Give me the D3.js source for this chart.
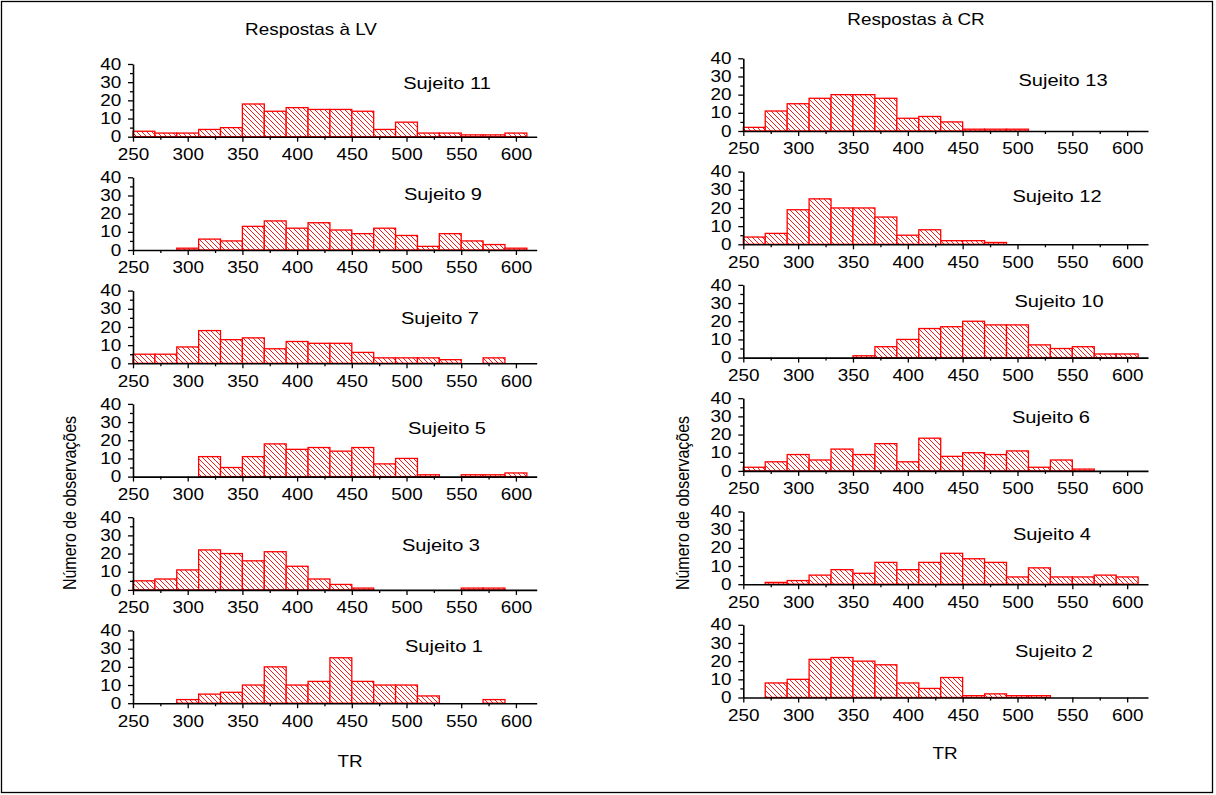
<!DOCTYPE html>
<html>
<head>
<meta charset="utf-8">
<script src="https://cdn.jsdelivr.net/npm/d3@7/dist/d3.min.js"></script>
<style>
  html, body { margin: 0; padding: 0; background: #fff; }
  svg { display: block; }
  text { font-family: "Liberation Sans", Arial, sans-serif; fill: #000; }
</style>
</head>
<body>
<svg id="chart" width="1216" height="795"></svg>
<script>
// ---------------- DATA ----------------
// bin lower edges (width 20 ms)
const binStarts = [250, 270, 290, 310, 330, 350, 370, 390, 410, 430, 450, 470, 490, 510, 530, 550, 570, 590];
const binWidth = 20;
const xTicks = [250, 300, 350, 400, 450, 500, 550, 600];
const yTicks = [0, 10, 20, 30, 40];

const leftTitle = "Respostas à LV";
const rightTitle = "Respostas à CR";
const xTitle = "TR";
const yTitle = "Número de observações";

const leftSubjects = ["Sujeito 11", "Sujeito 9", "Sujeito 7", "Sujeito 5", "Sujeito 3", "Sujeito 1"];
const rightSubjects = ["Sujeito 13", "Sujeito 12", "Sujeito 10", "Sujeito 6", "Sujeito 4", "Sujeito 2"];

const s11 = [3, 2, 2, 4, 5, 18, 14, 16, 15, 15, 14, 4, 8, 2, 2, 1, 1, 2];
const s9  = [0, 0, 1, 6, 5, 13, 16, 12, 15, 11, 9, 12, 8, 2, 9, 5, 3, 1];
const s7  = [5, 5, 9, 18, 13, 14, 8, 12, 11, 11, 6, 3, 3, 3, 2, 0, 3, 0];
const s5  = [0, 0, 0, 11, 5, 11, 18, 15, 16, 14, 16, 7, 10, 1, 0, 1, 1, 2];
const s3  = [5, 6, 11, 22, 20, 16, 21, 13, 6, 3, 1, 0, 0, 0, 0, 1, 1, 0];
const s1  = [0, 0, 2, 5, 6, 10, 20, 10, 12, 25, 12, 10, 10, 4, 0, 0, 2, 0];

const s13 = [2, 11, 15, 18, 20, 20, 18, 7, 8, 5, 1, 1, 1, 0, 0, 0, 0, 0];
const s12 = [4, 6, 19, 25, 20, 20, 15, 5, 8, 2, 2, 1, 0, 0, 0, 0, 0, 0];
const s10 = [0, 0, 0, 0, 0, 1, 6, 10, 16, 17, 20, 18, 18, 7, 5, 6, 2, 2];
const s6  = [2, 5, 9, 6, 12, 9, 15, 5, 18, 8, 10, 9, 11, 2, 6, 1, 0, 0];
const s4  = [0, 1, 2, 5, 8, 6, 12, 8, 12, 17, 14, 12, 4, 9, 4, 4, 5, 4];
const s2  = [0, 8, 10, 21, 22, 20, 18, 8, 5, 11, 1, 2, 1, 1, 0, 0, 0, 0];

const leftSeries = [s11, s9, s7, s5, s3, s1];
const rightSeries = [s13, s12, s10, s6, s4, s2];

// ---------------- LAYOUT ----------------
const xDomain = [250, 619];
const yDomain = [0, 40];
const panelH = 72.7;
const panelStep = 113.3;
const columns = [
  { x0: 133, x1: 536.7, base0: 136.7, names: leftSubjects, series: leftSeries,
    labelX: [447, 443, 440, 447, 441, 444], labelDy: [48, 50.5, 39.5, 43, 38.5, 51.5],
    title: leftTitle, titleX: 311, titleY: 35, xTitleX: 350, xTitleY: 767, yTitleX: 76, yTitleY: 503 },
  { x0: 743.3, x1: 1148, base0: 131, names: rightSubjects, series: rightSeries,
    labelX: [1063, 1057, 1059, 1051, 1052, 1054], labelDy: [45.5, 42, 51, 47.5, 44.5, 41],
    title: rightTitle, titleX: 916, titleY: 25, xTitleX: 945, xTitleY: 759, yTitleX: 689, yTitleY: 503 }
];
const SX = 1.18; // horizontal glyph stretch seen in the reference

const svg = d3.select("#chart");

// hatch pattern
const defs = svg.append("defs");
const pat = defs.append("pattern")
  .attr("id", "hatch").attr("patternUnits", "userSpaceOnUse")
  .attr("width", 5).attr("height", 5);
pat.append("rect").attr("width", 5).attr("height", 5).attr("fill", "#fff");
pat.append("path")
  .attr("d", "M0,0L5,5M-1,4L1,6M4,-1L6,1")
  .attr("stroke", "#ff0000").attr("stroke-width", 0.9).attr("fill", "none");

// border
svg.append("rect").attr("x", 1.5).attr("y", 1.5).attr("width", 1211).attr("height", 791)
  .attr("fill", "none").attr("stroke", "#000").attr("stroke-width", 1.3);

const minorX = d3.range(275, 619, 50);
const minorY = [5, 15, 25, 35];

columns.forEach(col => {
  const x = d3.scaleLinear().domain(xDomain).range([col.x0, col.x1]);

  col.series.forEach((vals, i) => {
    const base = col.base0 + i * panelStep;
    const y = d3.scaleLinear().domain(yDomain).range([base, base - panelH]);
    const g = svg.append("g");

    // bars
    const data = binStarts.map((b, k) => ({ b, v: vals[k] })).filter(d => d.v > 0);
    g.selectAll("rect.bar").data(data).join("rect")
      .attr("class", "bar")
      .attr("x", d => x(d.b))
      .attr("width", d => x(d.b + binWidth) - x(d.b))
      .attr("y", d => y(d.v))
      .attr("height", d => y(0) - y(d.v))
      .attr("fill", "url(#hatch)")
      .attr("stroke", "#ff0000")
      .attr("stroke-width", 1.3);

    // x axis
    const gx = g.append("g").attr("transform", `translate(0,${base})`)
      .call(d3.axisBottom(x).tickValues(xTicks).tickSize(5).tickPadding(7).tickSizeOuter(0));
    gx.select(".domain").attr("stroke-width", 1.6);
    gx.selectAll(".tick line").attr("stroke-width", 1.3);
    gx.selectAll(".tick text").attr("font-size", 16)
      .attr("font-family", "Liberation Sans, Arial, sans-serif")
      .attr("transform", `scale(${SX},1)`);
    g.append("g").attr("transform", `translate(0,${base})`)
      .call(d3.axisBottom(x).tickValues(minorX).tickSize(3).tickFormat("").tickSizeOuter(0))
      .call(s => s.select(".domain").remove())
      .selectAll(".tick line").attr("stroke-width", 1.3);

    // y axis
    const gy = g.append("g").attr("transform", `translate(${col.x0},0)`)
      .call(d3.axisLeft(y).tickValues(yTicks).tickSize(5).tickPadding(5).tickSizeOuter(0));
    gy.select(".domain").attr("stroke-width", 1.6);
    gy.selectAll(".tick line").attr("stroke-width", 1.3);
    gy.selectAll(".tick text").attr("font-size", 16)
      .attr("font-family", "Liberation Sans, Arial, sans-serif")
      .attr("transform", `scale(${SX},1)`);
    g.append("g").attr("transform", `translate(${col.x0},0)`)
      .call(d3.axisLeft(y).tickValues(minorY).tickSize(3).tickFormat("").tickSizeOuter(0))
      .call(s => s.select(".domain").remove())
      .selectAll(".tick line").attr("stroke-width", 1.3);

    // subject label
    g.append("text")
      .attr("transform", `translate(${col.labelX[i]},${base - col.labelDy[i]}) scale(${SX},1)`)
      .attr("text-anchor", "middle").attr("font-size", 17)
      .text(col.names[i]);
  });

  svg.append("text")
    .attr("transform", `translate(${col.titleX},${col.titleY}) scale(${SX},1)`)
    .attr("text-anchor", "middle").attr("font-size", 16).text(col.title);
  svg.append("text")
    .attr("transform", `translate(${col.xTitleX},${col.xTitleY}) scale(${SX},1)`)
    .attr("text-anchor", "middle").attr("font-size", 16).text(xTitle);
  svg.append("text")
    .attr("transform", `translate(${col.yTitleX},${col.yTitleY}) rotate(-90) scale(1,${SX})`)
    .attr("text-anchor", "middle").attr("font-size", 16).text(yTitle);
});
</script>
</body>
</html>
